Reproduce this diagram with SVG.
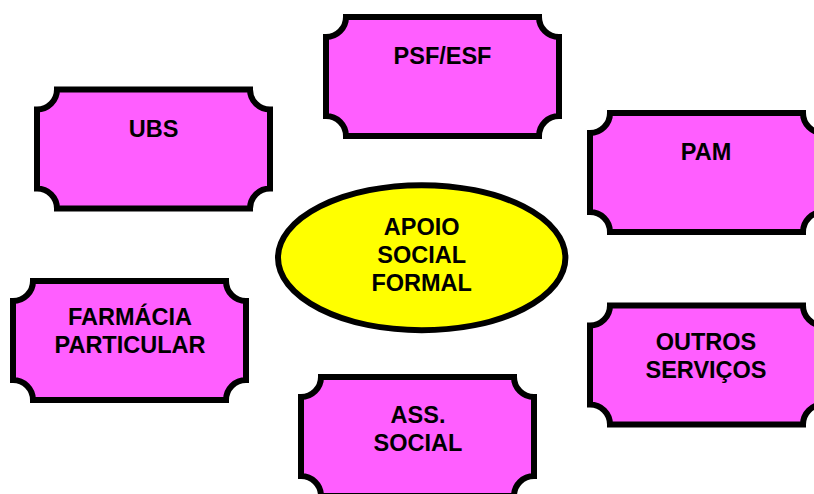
<svg xmlns="http://www.w3.org/2000/svg" xmlns:xlink="http://www.w3.org/1999/xlink" width="814" height="494" viewBox="0 0 814 494">
<style>
.box{fill:#FF5EFF;stroke:#000;stroke-width:6;stroke-linejoin:miter}
.ell{fill:#FFFF00;stroke:#000;stroke-width:6}
text{font-family:"Liberation Sans",Arial,sans-serif;font-weight:bold;font-size:23.5px;fill:#000;text-anchor:middle}
</style>
<defs>
<path id="plaque" d="M20,0 H213 A20,20 0 0 0 233,20 V99 A20,20 0 0 0 213,119 H20 A20,20 0 0 0 0,99 V20 A20,20 0 0 0 20,0 Z"/>
</defs>
<g id="connectors"></g>
<g id="psf-esf" transform="translate(326,17)">
<use xlink:href="#plaque" class="box"/>
<text x="116.5" y="46.5">PSF/ESF</text>
</g>
<g id="ubs" transform="translate(37,89.5)">
<use xlink:href="#plaque" class="box"/>
<text x="116.5" y="47">UBS</text>
</g>
<g id="pam" transform="translate(590,113)">
<use xlink:href="#plaque" class="box"/>
<text x="116" y="47">PAM</text>
</g>
<g id="farmacia" transform="translate(13,281)">
<use xlink:href="#plaque" class="box"/>
<text x="117" y="44">FARMÁCIA</text>
<text x="117" y="71.7">PARTICULAR</text>
</g>
<g id="outros" transform="translate(590,305.5)">
<use xlink:href="#plaque" class="box"/>
<text x="116" y="44.5">OUTROS</text>
<text x="116" y="72.5">SERVIÇOS</text>
</g>
<g id="ass-social" transform="translate(301,377)">
<use xlink:href="#plaque" class="box"/>
<text x="117" y="46.3">ASS.</text>
<text x="117" y="73.8">SOCIAL</text>
</g>
<g id="apoio">
<ellipse class="ell" cx="421.7" cy="257.7" rx="143.7" ry="72.5"/>
<text x="421.7" y="235">APOIO</text>
<text x="421.7" y="263">SOCIAL</text>
<text x="421.7" y="290.7">FORMAL</text>
</g>
</svg>
